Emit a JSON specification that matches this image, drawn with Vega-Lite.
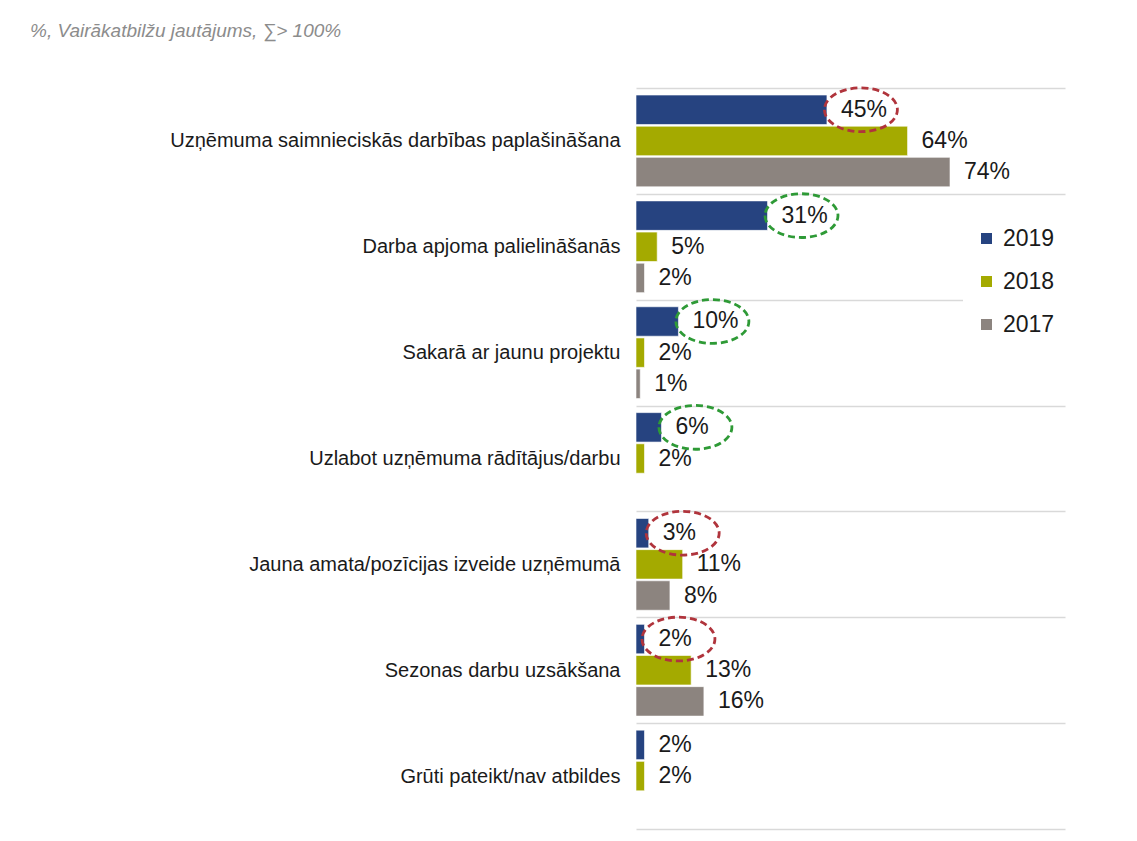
{
  "$schema": "https://vega.github.io/schema/vega-lite/v6.json",
  "autosize": "none",
  "padding": {"left": 636, "top": 88, "right": 72, "bottom": 12},
  "width": 429,
  "height": 741,
  "background": "white",
  "config": {
    "font": "Liberation Sans",
    "view": {"stroke": null}
  },
  "title": {
    "text": "%, Vairākatbilžu jautājums, ∑> 100%",
    "anchor": "start",
    "frame": "group",
    "dx": -606,
    "dy": 27,
    "offset": 49,
    "baseline": "alphabetic",
    "fontSize": 19,
    "fontStyle": "italic",
    "fontWeight": "normal",
    "color": "#8C8C8C",
    "font": "Liberation Sans"
  },
  "data": {
    "values": [
      {"iemesls": "Uzņēmuma saimnieciskās darbības paplašināšana", "gads": "2019", "vērtība": 0.45, "izmaiņa": "kritums"},
      {"iemesls": "Uzņēmuma saimnieciskās darbības paplašināšana", "gads": "2018", "vērtība": 0.64},
      {"iemesls": "Uzņēmuma saimnieciskās darbības paplašināšana", "gads": "2017", "vērtība": 0.74},
      {"iemesls": "Darba apjoma palielināšanās", "gads": "2019", "vērtība": 0.31, "izmaiņa": "pieaugums"},
      {"iemesls": "Darba apjoma palielināšanās", "gads": "2018", "vērtība": 0.05},
      {"iemesls": "Darba apjoma palielināšanās", "gads": "2017", "vērtība": 0.02},
      {"iemesls": "Sakarā ar jaunu projektu", "gads": "2019", "vērtība": 0.10, "izmaiņa": "pieaugums"},
      {"iemesls": "Sakarā ar jaunu projektu", "gads": "2018", "vērtība": 0.02},
      {"iemesls": "Sakarā ar jaunu projektu", "gads": "2017", "vērtība": 0.01},
      {"iemesls": "Uzlabot uzņēmuma rādītājus/darbu", "gads": "2019", "vērtība": 0.06, "izmaiņa": "pieaugums"},
      {"iemesls": "Uzlabot uzņēmuma rādītājus/darbu", "gads": "2018", "vērtība": 0.02},
      {"iemesls": "Jauna amata/pozīcijas izveide uzņēmumā", "gads": "2019", "vērtība": 0.03, "izmaiņa": "kritums"},
      {"iemesls": "Jauna amata/pozīcijas izveide uzņēmumā", "gads": "2018", "vērtība": 0.11},
      {"iemesls": "Jauna amata/pozīcijas izveide uzņēmumā", "gads": "2017", "vērtība": 0.08},
      {"iemesls": "Sezonas darbu uzsākšana", "gads": "2019", "vērtība": 0.02, "izmaiņa": "kritums"},
      {"iemesls": "Sezonas darbu uzsākšana", "gads": "2018", "vērtība": 0.13},
      {"iemesls": "Sezonas darbu uzsākšana", "gads": "2017", "vērtība": 0.16},
      {"iemesls": "Grūti pateikt/nav atbildes", "gads": "2019", "vērtība": 0.02},
      {"iemesls": "Grūti pateikt/nav atbildes", "gads": "2018", "vērtība": 0.02}
    ]
  },
  "encoding": {
    "y": {
      "field": "iemesls",
      "type": "nominal",
      "sort": null,
      "title": null,
      "scale": {"paddingInner": 0, "paddingOuter": 0},
      "axis": {
        "domain": false,
        "ticks": false,
        "grid": true,
        "tickBand": "extent",
        "gridColor": "#D9D9D9",
        "gridWidth": 1.5,
        "labelFontSize": 20,
        "labelColor": "#1A1A1A",
        "labelPadding": 16,
        "labelLimit": 620,
        "labelFont": "Liberation Sans"
      }
    },
    "yOffset": {
      "field": "gads",
      "type": "nominal",
      "sort": ["2019", "2018", "2017"],
      "scale": {"domain": ["2019", "2018", "2017"], "paddingInner": 0.055, "paddingOuter": 0.226}
    },
    "x": {
      "field": "vērtība",
      "type": "quantitative",
      "scale": {"domain": [0, 1.011], "nice": false, "zero": true},
      "axis": null
    }
  },
  "layer": [
    {
      "mark": {"type": "bar", "stroke": "white", "strokeWidth": 0.6},
      "encoding": {
        "color": {
          "field": "gads",
          "type": "nominal",
          "scale": {"domain": ["2019", "2018", "2017"], "range": ["#264380", "#A4AA00", "#8C847F"]},
          "legend": {
            "title": null,
            "orient": "none",
            "legendX": 327,
            "legendY": 127,
            "padding": 12,
            "fillColor": "white",
            "symbolType": "square",
            "symbolSize": 121,
            "symbolStrokeWidth": 0,
            "labelFontSize": 23,
            "labelColor": "#1A1A1A",
            "labelFont": "Liberation Sans",
            "labelOffset": 5,
            "rowPadding": 19
          }
        }
      }
    },
    {
      "mark": {"type": "text", "align": "left", "baseline": "middle", "dx": 14, "fontSize": 23, "color": "#1A1A1A"},
      "encoding": {
        "text": {"field": "vērtība", "type": "quantitative", "format": ".0%"}
      }
    },
    {
      "transform": [{"filter": "datum['izmaiņa'] != null"}],
      "mark": {
        "type": "point",
        "shape": "M -0.07 0 A 1 0.6 0 1 0 1.93 0 A 1 0.6 0 1 0 -0.07 0 Z",
        "size": 5329,
        "filled": false,
        "strokeWidth": 2.8,
        "strokeDash": [7, 4],
        "opacity": 1
      },
      "encoding": {
        "stroke": {
          "field": "izmaiņa",
          "type": "nominal",
          "scale": {"domain": ["kritums", "pieaugums"], "range": ["#B0343C", "#2E9A36"]},
          "legend": null
        }
      }
    }
  ]
}
